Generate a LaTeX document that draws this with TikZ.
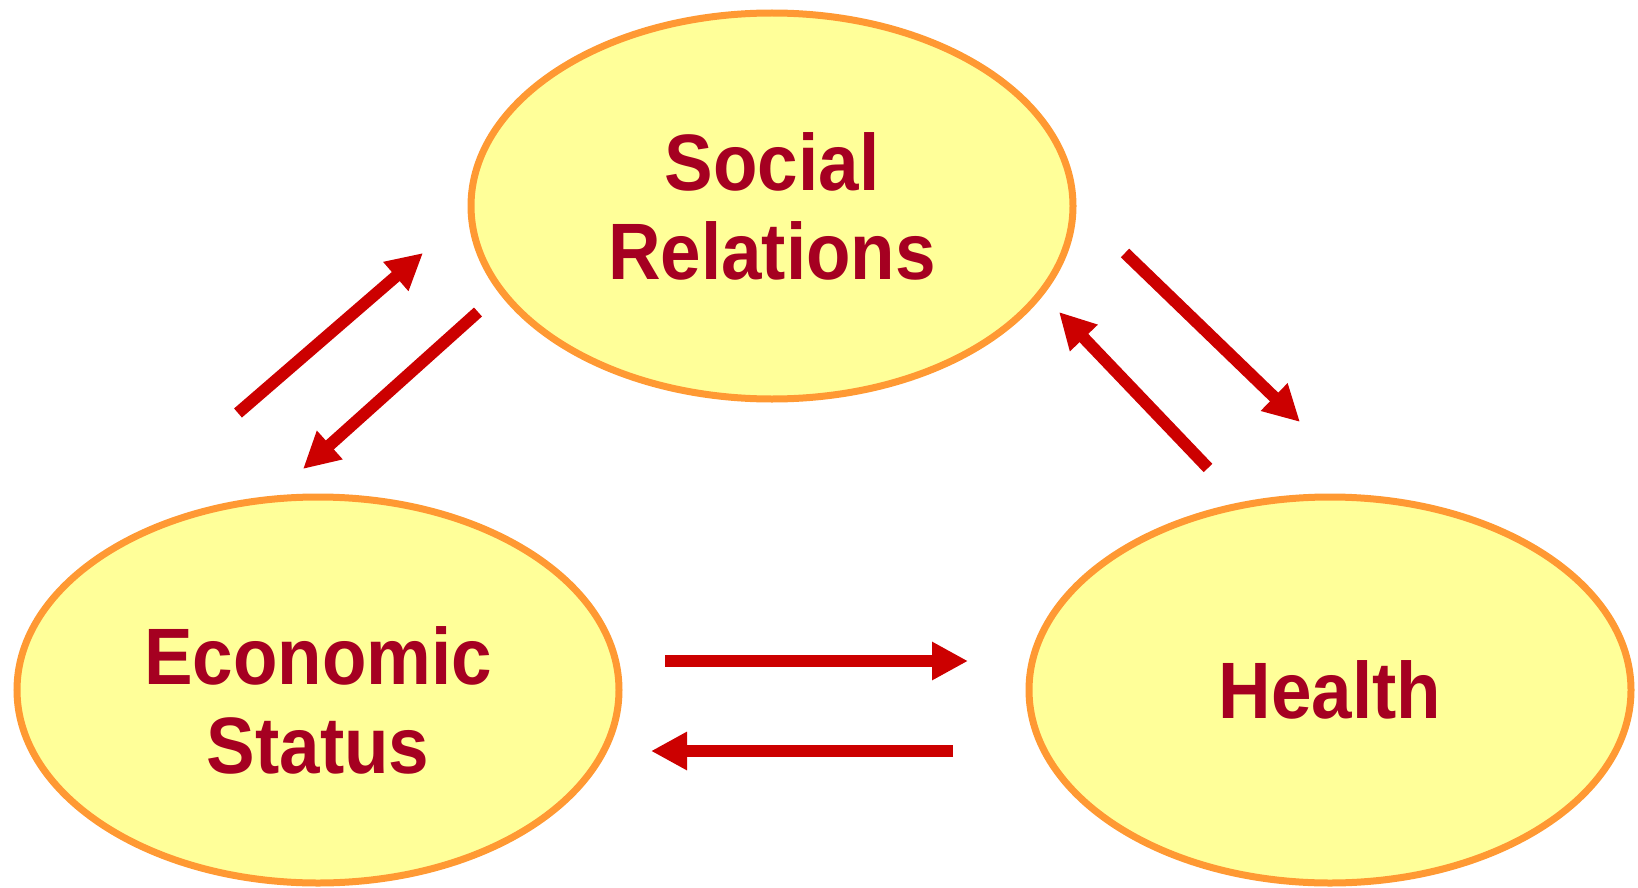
\documentclass[tikz,border=0pt]{standalone}
\usepackage{fontspec}
\usepackage{xcolor}
\usepackage{tikz}
\usetikzlibrary{shapes.geometric}
\usetikzlibrary{arrows.meta}

\newfontfamily\labelfont{Liberation Sans}[FakeStretch=0.91]

\definecolor{ovalfill}{RGB}{255,255,153}
\definecolor{ovalline}{RGB}{255,153,51}
\definecolor{labeltext}{RGB}{165,0,33}
\definecolor{arrowred}{RGB}{204,0,0}

\tikzset{
  factortext/.style={text=labeltext, align=center, inner sep=0pt,
    font=\labelfont\bfseries\fontsize{40}{44.5}\selectfont},
  factor/.style={factortext, ellipse, draw=ovalline, fill=ovalfill, line width=3.5pt,
    minimum width=301pt, minimum height=193pt},
  effect/.style={draw=arrowred, line width=6pt,
    -{Triangle[length=18pt, width=18pt]}}
}

\begin{document}
\begin{tikzpicture}[x=0.5pt,y=0.5pt,yscale=-1,xscale=1]
\path[use as bounding box] (0,0) rectangle (1638,888);

%Shape: Ellipse [social relations]
\node [factor] (social) at (772,206) {Social\\Relations};
%Shape: Ellipse [economic status]
\node [factor] (econ) at (318,690) {};
\node [factortext] (econ-text) at ([yshift=5pt]econ.center) {Economic\\Status};
%Shape: Ellipse [health]
\node [factor] (health) at (1330,690) {Health};

% arrow ends
\coordinate (econ-up) at (238,413);
\coordinate (social-low) at (423,253);
\coordinate (social-out) at (478,312);
\coordinate (econ-in) at (303,469);
\coordinate (social-right) at (1125,253);
\coordinate (health-in) at (1300,422);
\coordinate (health-up) at (1208,468);
\coordinate (social-in) at (1059,312);
\coordinate (econ-right) at (665,661);
\coordinate (health-left) at (968,661);
\coordinate (health-out) at (953,751);
\coordinate (econ-back) at (651,751);

%Straight Lines [econ <-> social]
\draw [effect] (econ-up) -- (social-low);
\draw [effect] (social-out) -- (econ-in);
%Straight Lines [social <-> health]
\draw [effect] (social-right) -- (health-in);
\draw [effect] (health-up) -- (social-in);
%Straight Lines [econ <-> health]
\draw [effect] (econ-right) -- (health-left);
\draw [effect] (health-out) -- (econ-back);

\end{tikzpicture}
\end{document}
